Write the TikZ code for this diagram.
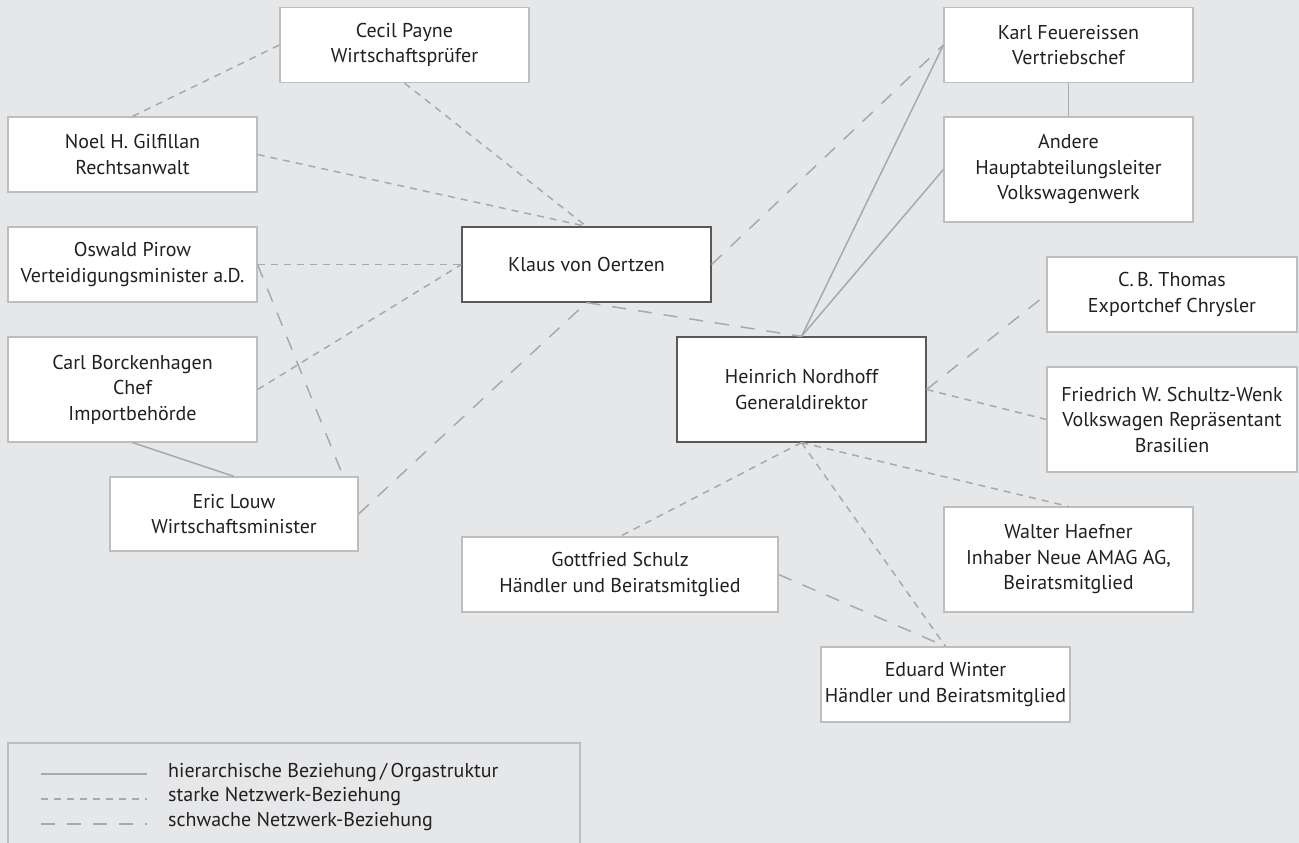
\documentclass[tikz,border=0pt]{standalone}
\usepackage{fontspec}
\setmainfont{PT Sans}
\definecolor{bg}{HTML}{E6E7E8}
\definecolor{linegray}{HTML}{A7A9AC}
\definecolor{boxgray}{HTML}{BCBEC0}
\definecolor{darkframe}{HTML}{58595B}
\definecolor{ink}{HTML}{231F20}
\begin{document}
\begin{tikzpicture}[x=1pt,y=-1pt,
  box/.style={draw=boxgray, line width=1.2pt, fill=white, align=center,
    text=ink, font=\fontsize{20}{25.5}\selectfont, inner sep=0pt},
  mainbox/.style={box, draw=darkframe},
  small/.style={minimum width=249pt, minimum height=75pt},
  tall/.style={minimum width=249pt, minimum height=105pt},
  hier/.style={draw=linegray, line width=1.5pt},
  strong/.style={draw=linegray, line width=1.5pt, dash pattern=on 7pt off 6pt},
  weak/.style={draw=linegray, line width=1.5pt, dash pattern=on 14pt off 12pt},
  legendtext/.style={anchor=west, text=ink, font=\fontsize{20}{24}\selectfont, inner sep=0pt}]

% canvas
\fill[bg] (0,0) rectangle (1299,843);
\useasboundingbox (0,0) rectangle (1299,843);
\clip (0,0) rectangle (1299,843);

% people
\node[box, small] (cecil)  at (404.5,45)   {Cecil Payne\\Wirtschaftsprüfer};
\node[box, small] (noel)   at (132.5,154.5) {Noel H. Gilfillan\\Rechtsanwalt};
\node[box, small] (oswald) at (132.5,264.5) {Oswald Pirow\\Verteidigungsminister a.D.};
\node[box, tall]  (carl)   at (132.5,389.5) {Carl Borckenhagen\\Chef\\Importbehörde};
\node[box, minimum width=248pt, minimum height=74pt] (eric) at (234,514) {Eric Louw\\Wirtschaftsminister};
\node[mainbox, small] (klaus) at (586.5,264.5) {Klaus von Oertzen};
\node[mainbox, tall]  (heinrich) at (801.5,389.5) {Heinrich Nordhoff\\Generaldirektor};
\node[box, small] (karl)   at (1068.5,45)  {Karl Feuereissen\\Vertriebschef};
\node[box, tall]  (andere) at (1068.5,169.5) {Andere\\Hauptabteilungsleiter\\Volkswagenwerk};
\node[box, minimum width=250pt, minimum height=75pt] (thomas) at (1172,294.5) {C.\,B. Thomas\\Exportchef Chrysler};
\node[box, minimum width=250pt, minimum height=105pt] (friedrich) at (1172,419.5) {Friedrich W. Schultz-Wenk\\Volkswagen Repräsentant\\Brasilien};
\node[box, tall]  (walter) at (1068.5,559.5) {Walter Haefner\\Inhaber Neue AMAG AG,\\Beiratsmitglied};
\node[box, minimum width=316pt, minimum height=75pt] (gottfried) at (620,574.5) {Gottfried Schulz\\Händler und Beiratsmitglied};
\node[box, small] (eduard) at (945.5,684.5) {Eduard Winter\\Händler und Beiratsmitglied};

% hierarchical relations
\draw[hier] (heinrich.north) -- (karl.west);
\draw[hier] (heinrich.north) -- (andere.west);
\draw[hier] (karl.south) -- (andere.north);
\draw[hier] (carl.south) -- (eric.north);

% strong network relations
\draw[strong] (noel.north) -- (cecil.west);
\draw[strong] (cecil.south) -- (klaus.north);
\draw[strong] (noel.east) -- (klaus.north);
\draw[strong] (oswald.east) -- (klaus.west);
\draw[strong] (carl.east) -- (klaus.west);
\draw[strong] (heinrich.east) -- (friedrich.west);
\draw[strong] (heinrich.south) -- (gottfried.north);
\draw[strong] (heinrich.south) -- (eduard.north);
\draw[strong] (heinrich.south) -- (walter.north);

% weak network relations
\draw[weak] (oswald.east) -- (eric.19);
\draw[weak] (eric.east) -- (klaus.south);
\draw[weak] (klaus.south) -- (heinrich.north);
\draw[weak] (klaus.east) -- (karl.west);
\draw[weak] (heinrich.east) -- (thomas.west);
\draw[weak] (gottfried.east) -- (eduard.north);

% legend
\draw[boxgray, line width=1.2pt] (8,743) rectangle (580,860);
\draw[hier]   (41,774) -- (147,774);
\draw[strong] (41,799) -- (147,799);
\draw[weak]   (41,824) -- (147,824);
\node[legendtext] (l1) at (168,772) {hierarchische Beziehung\,/\,Orgastruktur};
\node[legendtext] (l2) at (168,797) {starke Netzwerk-Beziehung};
\node[legendtext] (l3) at (168,822) {schwache Netzwerk-Beziehung};
\end{tikzpicture}
\end{document}
